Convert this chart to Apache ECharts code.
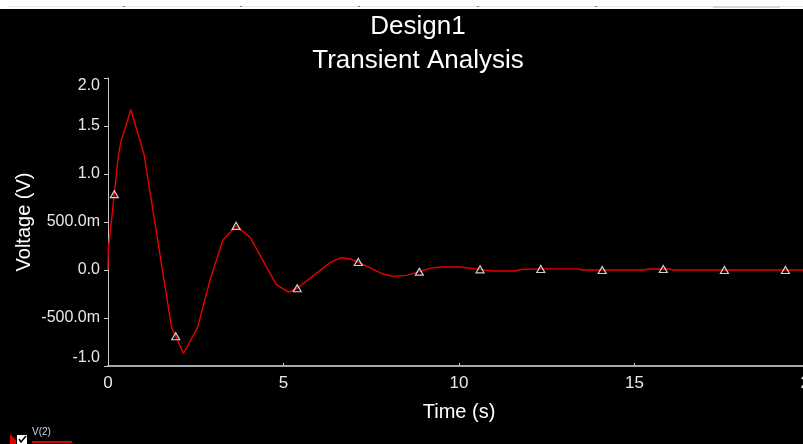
<!DOCTYPE html>
<html>
<head>
<meta charset="utf-8">
<script src="https://cdn.jsdelivr.net/npm/echarts@6/dist/echarts.min.js"></script>
<style>
html,body{margin:0;padding:0;background:#000;}
#chart{width:803px;height:444px;}
</style>
</head>
<body>
<div id="chart"></div>
<script>
// ---- data ----
var timeValues = [0, 0.01, 0.10, 0.18, 0.29, 0.37, 0.65, 1.03, 1.81, 1.93, 2.15, 2.55, 2.91, 3.27, 3.65, 4.05, 4.79, 5.14, 5.39, 6.13, 6.32, 6.65, 6.89, 7.13, 7.84, 8.13, 8.51, 8.87, 9.17, 9.46, 10.03, 10.6, 10.93, 11.6, 11.75, 12.4, 13.39, 13.5, 15.3, 15.4, 16.0, 16.1, 20];
var voltageValues = [0, 0.22, 0.52, 0.79, 1.18, 1.34, 1.67, 1.20, -0.60, -0.69, -0.87, -0.60, -0.10, 0.31, 0.46, 0.34, -0.15, -0.23, -0.19, 0.02, 0.076, 0.128, 0.115, 0.083, -0.042, -0.066, -0.056, -0.017, 0.017, 0.031, 0.031, 0.007, -0.01, -0.01, 0.005, 0.012, 0.012, 0.0, 0.0, 0.01, 0.01, 0.0, 0.0];
var markerTimes = [0.18, 1.93, 3.65, 5.39, 7.13, 8.87, 10.6, 12.33, 14.08, 15.82, 17.56, 19.3];
var markerVoltages = [0.79, -0.69, 0.46, -0.19, 0.083, -0.017, 0.007, 0.01, 0.0, 0.01, 0.0, 0.0];
var yTicks = [-1, -0.5, 0, 0.5, 1, 1.5, 2];
var yTickLabels = ['-1.0', '-500.0m', '0.0', '500.0m', '1.0', '1.5', '2.0'];
var xTickLabels = ['0', '5', '10', '15', '20'];
var seriesName = 'V(2)';
var titleLines = ['Design1', 'Transient Analysis'];

var lineData = timeValues.map(function (t, i) { return [t, voltageValues[i]]; });
var markerData = markerTimes.map(function (t, i) { return [t, markerVoltages[i]]; });

var FONT = '"Liberation Sans", Arial, sans-serif';
var chart = echarts.init(document.getElementById('chart'), null, {renderer: 'canvas'});

var topDots = [123, 240, 358, 477, 595];
var graphics = [
  {type: 'rect', shape: {x: 0, y: 0, width: 803, height: 9}, style: {fill: '#ffffff'}, silent: true},
  {type: 'rect', shape: {x: 9, y: 6, width: 794, height: 1}, style: {fill: '#e6e6e6'}, silent: true},
  {type: 'rect', shape: {x: 713, y: 6, width: 67, height: 2}, style: {fill: '#d8d8d8'}, silent: true},
  // legend
  {type: 'polygon', shape: {points: [[10, 434], [16, 440], [16, 444], [10, 444]]}, style: {fill: '#e00000'}, silent: true},
  {type: 'rect', shape: {x: 17, y: 435, width: 10, height: 9}, style: {fill: '#ffffff'}, silent: true},
  {type: 'polyline', shape: {points: [[19, 439], [21, 442], [26, 436]]}, style: {stroke: '#000', lineWidth: 1.5, fill: null}, silent: true},
  {type: 'text', left: 32, top: 427, style: {text: seriesName, fill: '#c8d6ee', font: '10px ' + FONT}, silent: true},
  {type: 'rect', shape: {x: 32, y: 441, width: 40, height: 2}, style: {fill: '#e00000'}, silent: true}
];
topDots.forEach(function (x) {
  graphics.push({type: 'rect', shape: {x: x, y: 6, width: 2, height: 1}, style: {fill: '#777'}, silent: true});
});

var option = {
  backgroundColor: '#000000',
  animation: false,
  title: [
    {text: titleLines[0], left: 413, top: 9, textAlign: 'center',
     textStyle: {color: '#ffffff', fontSize: 26, fontWeight: 'normal', fontFamily: FONT}},
    {text: titleLines[1], left: 413, top: 43, textAlign: 'center',
     textStyle: {color: '#ffffff', fontSize: 26, fontWeight: 'normal', fontFamily: FONT}}
  ],
  grid: {left: 108, right: -7, top: 78, bottom: 78, containLabel: false, outerBoundsMode: 'none'},
  xAxis: {
    type: 'value', min: 0, max: 20, interval: 5,
    name: 'Time (s)', nameLocation: 'middle', nameGap: 36, nameMoveOverlap: false,
    nameTextStyle: {color: '#ffffff', fontSize: 20, fontFamily: FONT},
    axisLine: {show: true, onZero: false, lineStyle: {color: '#a8a8a8', width: 2}},
    axisTick: {show: true, inside: true, length: 3, lineStyle: {color: '#c8c8c8'}},
    axisLabel: {color: '#e8e8e8', fontSize: 17, fontFamily: FONT, margin: 9, hideOverlap: false,
      formatter: function (v) { return xTickLabels[Math.round(v / 5)]; }},
    splitLine: {show: false}
  },
  yAxis: {
    type: 'value', min: -1, max: 2, interval: 0.5,
    name: 'Voltage (V)', nameLocation: 'middle', nameGap: 74, nameMoveOverlap: false,
    nameTextStyle: {color: '#ffffff', fontSize: 20, fontFamily: FONT},
    axisLine: {show: true, onZero: false, lineStyle: {color: '#c8c8c8', width: 1}},
    axisTick: {show: true, length: 4, lineStyle: {color: '#c8c8c8'}},
    axisLabel: {color: '#e8e8e8', fontSize: 16, fontFamily: FONT, margin: 8,
      verticalAlignMinLabel: 'bottom', verticalAlignMaxLabel: 'top',
      formatter: function (v) {
        var idx = yTicks.findIndex(function (t) { return Math.abs(t - v) < 1e-9; });
        return idx >= 0 ? yTickLabels[idx] : '';
      }},
    splitLine: {show: false}
  },
  series: [
    {name: seriesName, type: 'line', data: lineData, showSymbol: false, symbol: 'none',
     lineStyle: {color: '#e80000', width: 1.4}, z: 2},
    {name: seriesName + ' markers', type: 'scatter', data: markerData, symbol: 'triangle', symbolSize: [8, 7],
     itemStyle: {color: 'rgba(0,0,0,0)', borderColor: '#ffffff', borderWidth: 1.2}, z: 3}
  ],
  graphic: graphics
};
chart.setOption(option);
</script>
</body>
</html>
